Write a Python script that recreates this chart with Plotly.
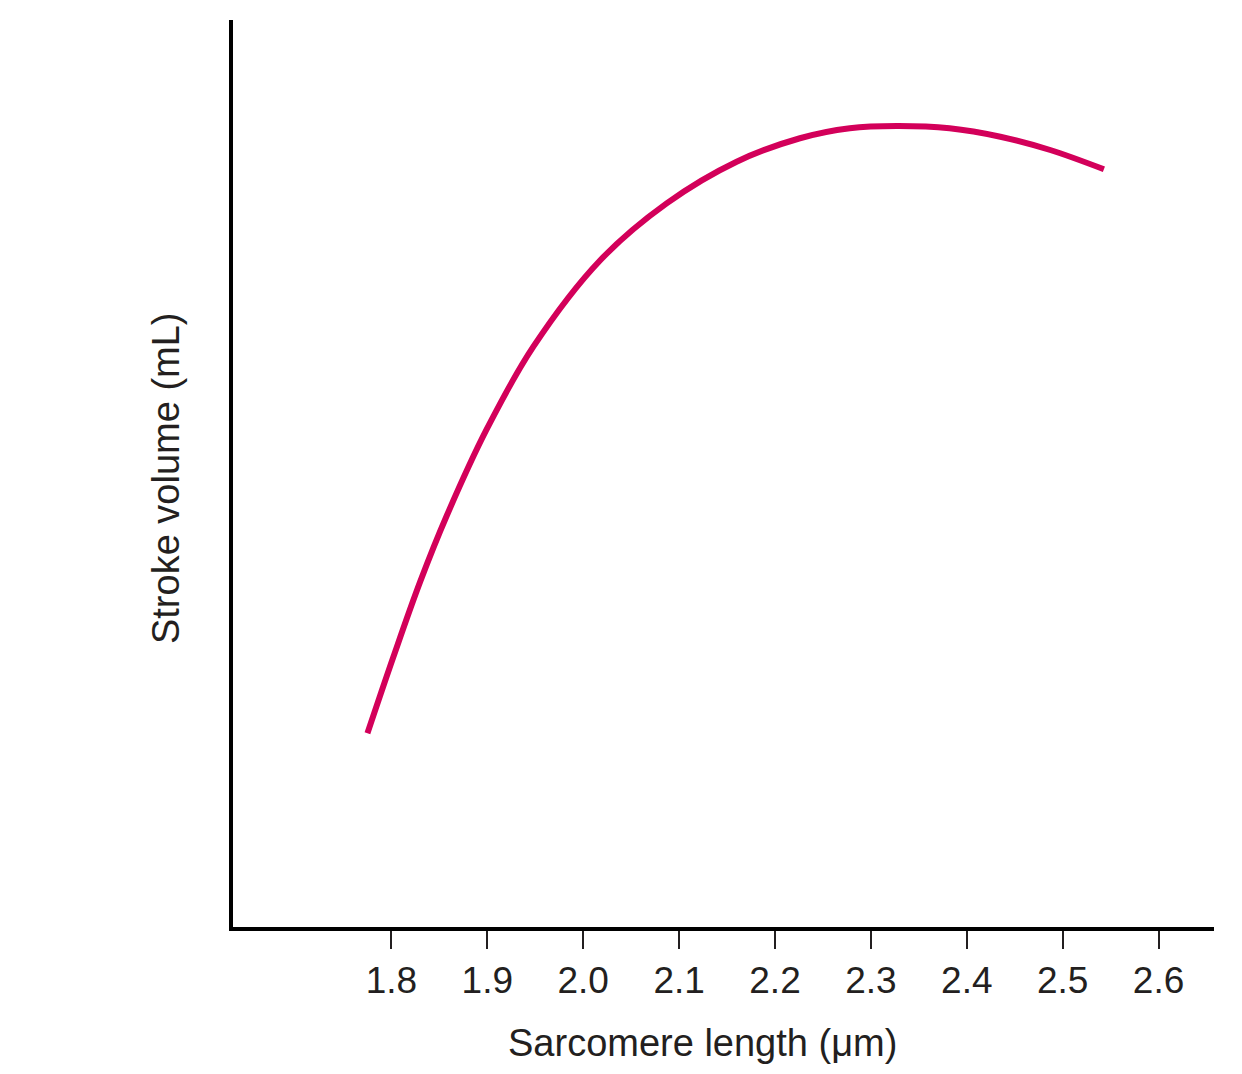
import plotly.graph_objects as go

# curva de Frank-Starling: volume sistolico x comprimento do sarcomero
sarcomere_um = [1.775, 1.802, 1.830, 1.858, 1.899, 1.948, 2.018, 2.087,
                2.160, 2.226, 2.278, 2.327, 2.382, 2.435, 2.487, 2.543]
stroke_volume = [21.53, 29.92, 38.21, 45.54, 54.90, 64.06, 73.60, 79.83,
                 84.41, 86.99, 88.09, 88.34, 88.09, 87.16, 85.70, 83.58]

tick_vals = [1.8, 1.9, 2.0, 2.1, 2.2, 2.3, 2.4, 2.5, 2.6]
tick_text = ['1.8', '1.9', '2.0', '2.1', '2.2', '2.3', '2.4', '2.5', '2.6']

FONT = 'Liberation Sans, Arial, Helvetica, sans-serif'
TXT = '#231f20'

fig = go.Figure()
fig.add_trace(go.Scatter(x=sarcomere_um, y=stroke_volume, mode='lines',
                         line=dict(color='#d3005a', width=6, shape='spline'),
                         showlegend=False, hoverinfo='skip'))

# a pagina html tem 8px de margem no body, por isso 1234x1066
fig.update_layout(
    width=1234, height=1066,
    margin=dict(l=225, r=28, t=12, b=147),
    paper_bgcolor='white', plot_bgcolor='white',
    font=dict(family=FONT, color=TXT, size=38),
)

fig.update_xaxes(range=[1.6348, 2.6578], showgrid=False, zeroline=False,
                 showline=True, linecolor='black', linewidth=4,
                 tickmode='array', tickvals=tick_vals, ticktext=tick_text,
                 ticks='outside', ticklen=18, tickwidth=2, tickcolor=TXT,
                 tickfont=dict(size=37, color=TXT, family=FONT))
fig.update_yaxes(range=[0.22, 100], showgrid=False, zeroline=False,
                 showline=True, linecolor='black', linewidth=4,
                 showticklabels=False, ticks='')

# titulos dos eixos
fig.add_annotation(text='Sarcomere length (μm)', xref='paper', yref='paper',
                   x=0.479, y=-0.1279, xanchor='center', yanchor='middle',
                   showarrow=False, font=dict(size=38, color=TXT, family=FONT))
fig.add_annotation(text='Stroke volume (mL)', xref='paper', yref='paper',
                   x=-0.0683, y=0.495, xanchor='center', yanchor='middle',
                   textangle=-90, showarrow=False,
                   font=dict(size=38, color=TXT, family=FONT))

fig.write_html('out.html')
